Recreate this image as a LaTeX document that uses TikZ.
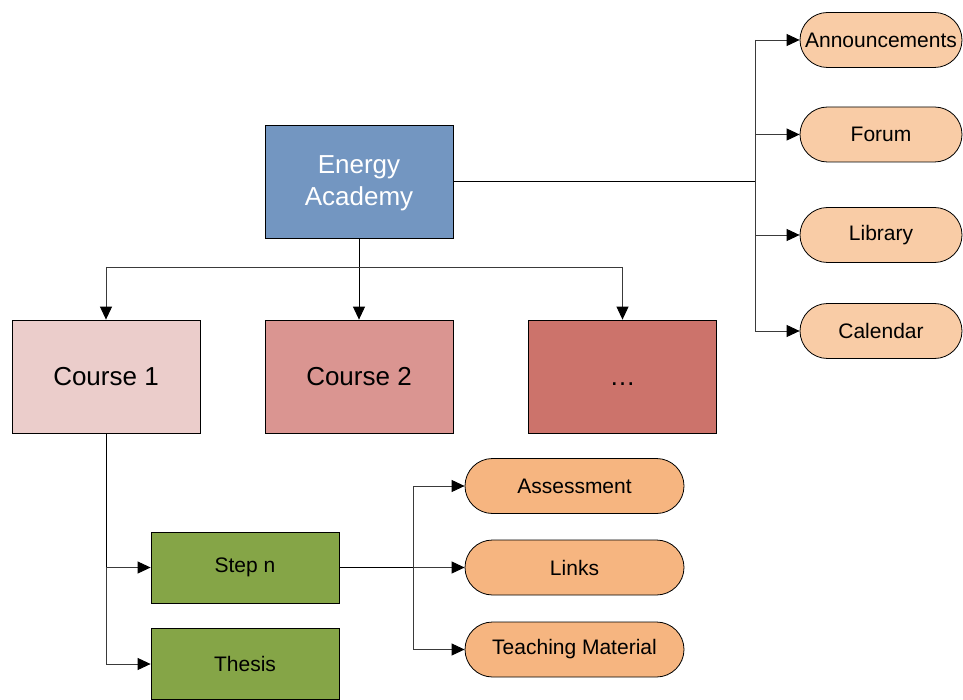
\documentclass[tikz,border=0pt]{standalone}
\usepackage{fontspec}
\setmainfont{Liberation Sans}
\usetikzlibrary{arrows.meta}
\definecolor{eablue}{HTML}{7396C1}
\definecolor{cone}{HTML}{EBCDCB}
\definecolor{ctwo}{HTML}{DA9591}
\definecolor{cthree}{HTML}{CC736B}
\definecolor{stepgreen}{HTML}{85A547}
\definecolor{peachlight}{HTML}{F9CCA6}
\definecolor{peach}{HTML}{F6B580}
\definecolor{linegray}{HTML}{3A3A3A}
\begin{document}
\begin{tikzpicture}[x=1pt,y=-1pt,
  box/.style={draw=black,line width=0.8pt,rectangle,inner sep=0pt,minimum width=188pt},
  bigbox/.style={box,minimum height=113pt,font=\fontsize{26}{32}\selectfont,align=center},
  greenbox/.style={box,fill=stepgreen,minimum height=71pt,font=\fontsize{21}{24}\selectfont},
  pill/.style={draw=black,line width=0.8pt,rectangle,rounded corners=27.5pt,inner sep=0pt,minimum height=55pt,font=\fontsize{21}{24}\selectfont},
  conn/.style={draw=linegray,line width=0.9pt},
  arr/.style={conn,-{Triangle[length=13pt,width=12pt,color=black]}}
]
\useasboundingbox (0,0) rectangle (963,700);

% main boxes
\node[bigbox,fill=eablue] (ea) at (359,181.5) {};
\node[font=\fontsize{26}{32}\selectfont,align=center,text=white,inner sep=0pt] (eatext) at (359,183.5) {Energy\\Academy};
\node[bigbox,fill=cone] (c1) at (106,376.5) {Course 1};
\node[bigbox,fill=ctwo] (c2) at (359,376.5) {Course 2};
\node[bigbox,fill=cthree] (c3) at (622.5,376.5) {\vphantom{C}\dots};

\node[greenbox] (step) at (245,567.5) {\raisebox{-2pt}{Step n}};
\node[greenbox] (thesis) at (245,664) {Thesis};

% right pills
\node[pill,fill=peachlight,minimum width=162pt] (ann) at (881,40) {Announcements};
\node[pill,fill=peachlight,minimum width=162pt] (forum) at (881,134.5) {Forum};
\node[pill,fill=peachlight,minimum width=162pt] (lib) at (881,235) {Library};
\node[pill,fill=peachlight,minimum width=162pt] (cal) at (881,331) {Calendar};

% bottom pills
\node[pill,fill=peach,minimum width=219pt] (assess) at (574.5,486) {Assessment};
\node[pill,fill=peach,minimum width=219pt] (links) at (574.5,567.5) {Links};
\node[pill,fill=peach,minimum width=219pt] (teach) at (574.5,649.5) {Teaching Material};

% coordinates
\coordinate (rbus) at (755,181.5);
\coordinate (hbus) at (359,267);
\coordinate (sbus) at (413,567.5);

% EA -> right pills
\draw[conn,draw=black] (ea.east) -- (rbus);
\draw[conn] (rbus |- ann.west) -- (rbus |- cal.west);
\draw[arr] (rbus |- ann.west) -- (ann.west);
\draw[arr] (rbus |- forum.west) -- (forum.west);
\draw[arr] (rbus |- lib.west) -- (lib.west);
\draw[arr] (rbus |- cal.west) -- (cal.west);

% EA -> courses
\draw[arr,draw=black] (ea.south) -- (c2.north);
\draw[conn] (c1.north |- hbus) -- (c3.north |- hbus);
\draw[arr] (c1.north |- hbus) -- (c1.north);
\draw[arr] (c3.north |- hbus) -- (c3.north);

% Course 1 -> steps
\draw[conn,draw=black] (c1.south) -- (c1.south |- step.west);
\draw[conn] (c1.south |- step.west) -- (c1.south |- thesis.west);
\draw[arr] (c1.south |- step.west) -- (step.west);
\draw[arr] (c1.south |- thesis.west) -- (thesis.west);

% Step n -> bottom pills
\draw[conn,draw=black] (step.east) -- (sbus);
\draw[conn] (sbus |- assess.west) -- (sbus |- teach.west);
\draw[arr] (sbus |- assess.west) -- (assess.west);
\draw[arr] (sbus) -- (links.west);
\draw[arr] (sbus |- teach.west) -- (teach.west);
\end{tikzpicture}
\end{document}
